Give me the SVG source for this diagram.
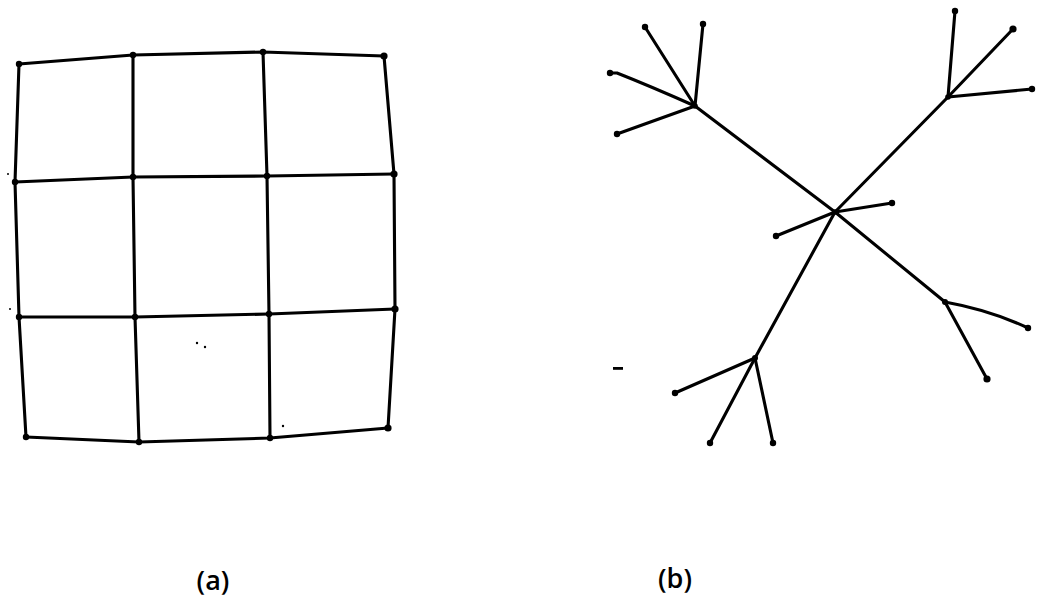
<svg xmlns="http://www.w3.org/2000/svg" width="1046" height="607" viewBox="0 0 1046 607">
<style>
.e{stroke:#000;stroke-width:3.1;fill:none;stroke-linecap:round}
.n{fill:#000}
.lbl{font-family:"Open Sans","Liberation Sans",sans-serif;font-size:27px;font-weight:600;fill:#000}
</style>
<rect width="1046" height="607" fill="#fff"/>
<g id="connectors">
<polyline class="e" points="19,64 133,55 263,52 384,56"/>
<polyline class="e" points="15,182 133,177 267,176 394,174"/>
<polyline class="e" points="19,317 135,317 269,314 395,309"/>
<polyline class="e" points="26,437 139,442 270,438 388,428"/>
<polyline class="e" points="19,64 15,182 19,317 26,437"/>
<polyline class="e" points="133,55 133,177 135,317 139,442"/>
<polyline class="e" points="263,52 267,176 269,314 270,438"/>
<polyline class="e" points="384,56 394,174 395,309 388,428"/>
<line class="e" x1="835" y1="212" x2="695" y2="106"/>
<line class="e" x1="835" y1="212" x2="948" y2="97"/>
<line class="e" x1="835" y1="212" x2="945" y2="302"/>
<line class="e" x1="835" y1="212" x2="755" y2="358"/>
<line class="e" x1="835" y1="212" x2="892" y2="203"/>
<line class="e" x1="835" y1="212" x2="776" y2="236"/>
<line class="e" x1="695" y1="106" x2="645" y2="27"/>
<line class="e" x1="695" y1="106" x2="703" y2="24"/>
<path class="e" d="M695,106 Q650,86 617,73 L610,73"/>
<line class="e" x1="695" y1="106" x2="617" y2="134"/>
<line class="e" x1="948" y1="97" x2="955" y2="11"/>
<line class="e" x1="948" y1="97" x2="1013" y2="29"/>
<line class="e" x1="948" y1="97" x2="1032" y2="89"/>
<path class="e" d="M945,302 Q990,310 1028,328"/>
<line class="e" x1="945" y1="302" x2="987" y2="379"/>
<line class="e" x1="755" y1="358" x2="675" y2="393"/>
<line class="e" x1="755" y1="358" x2="710" y2="443"/>
<line class="e" x1="755" y1="358" x2="773" y2="443"/>
</g>
<g id="grid-nodes" class="n">
<circle cx="19" cy="64" r="3.2"/><circle cx="133" cy="55" r="3.2"/><circle cx="263" cy="52" r="3.2"/><circle cx="384" cy="56" r="3.6"/>
<circle cx="15" cy="182" r="3.2"/><circle cx="133" cy="177" r="3.2"/><circle cx="267" cy="176" r="3.2"/><circle cx="394" cy="174" r="3.6"/>
<circle cx="19" cy="317" r="3.2"/><circle cx="135" cy="317" r="3.2"/><circle cx="269" cy="314" r="3.2"/><circle cx="395" cy="309" r="3.6"/>
<circle cx="26" cy="437" r="3.2"/><circle cx="139" cy="442" r="3.2"/><circle cx="270" cy="438" r="3.2"/><circle cx="388" cy="428" r="3.6"/>
</g>
<g id="specks" class="n">
<circle cx="8" cy="174" r="1"/><circle cx="10" cy="309" r="1"/><circle cx="197" cy="343" r="1.2"/><circle cx="205" cy="347" r="1.2"/><circle cx="283" cy="426" r="1.2"/>
<rect x="613" y="367" width="10" height="2.8"/>
</g>
<g id="tree-nodes" class="n">
<circle cx="835" cy="212" r="2.8"/>
<circle cx="695" cy="106" r="2.8"/><circle cx="948" cy="97" r="2.8"/><circle cx="945" cy="302" r="3"/><circle cx="755" cy="358" r="3"/>
<circle cx="645" cy="27" r="3.2"/><circle cx="703" cy="24" r="3.2"/><circle cx="610" cy="73" r="3.2"/><circle cx="617" cy="134" r="3.2"/>
<circle cx="955" cy="11" r="3.2"/><circle cx="1013" cy="29" r="3.6"/><circle cx="1032" cy="89" r="3.2"/>
<circle cx="892" cy="203" r="3.2"/><circle cx="776" cy="236" r="3.2"/>
<circle cx="1028" cy="328" r="3.2"/><circle cx="987" cy="379" r="3.6"/>
<circle cx="675" cy="393" r="3.2"/><circle cx="710" cy="443" r="3.2"/><circle cx="773" cy="443" r="3.2"/>
</g>
<g id="labels">
<text class="lbl" x="213" y="590" text-anchor="middle">(a)</text>
<text class="lbl" x="675" y="588" text-anchor="middle">(b)</text>
</g>
</svg>
